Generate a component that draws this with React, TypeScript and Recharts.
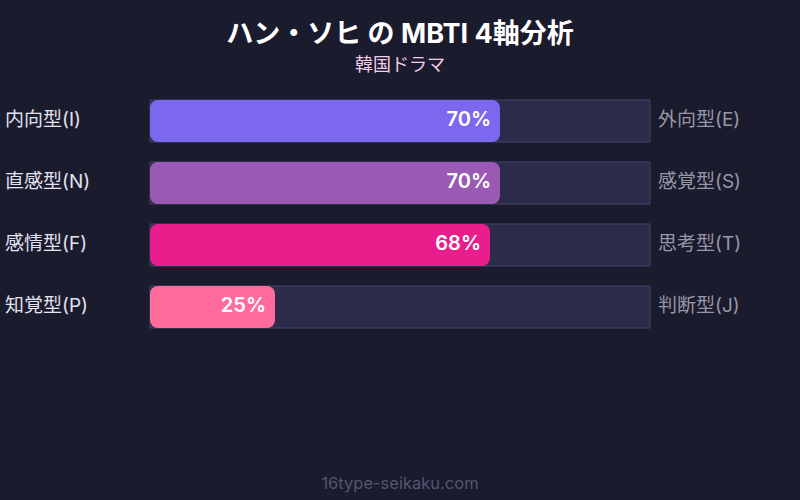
import React from 'react';
import { BarChart, Bar, XAxis, YAxis, Cell, LabelList } from 'recharts';

const leftLabels = ['内向型(I)', '直感型(N)', '感情型(F)', '知覚型(P)'];
const rightLabels = ['外向型(E)', '感覚型(S)', '思考型(T)', '判断型(J)'];
const values = [70, 70, 68, 25];
const barColors = ['#7b68ee', '#9b59b6', '#e91e8c', '#ff6b9d'];

const data = leftLabels.map((l, i) => ({
  left: l,
  right: rightLabels[i],
  value: values[i],
}));

const FONT = "Inter, 'Noto Sans CJK JP', sans-serif";

const LeftTick = (props: any) => {
  const { y, payload } = props;
  return (
    <text x={5} y={y} dy={5} textAnchor="start" fill="#e2e2f0" fontSize={19} fontFamily={FONT}>
      {payload.value}
    </text>
  );
};

const RightTick = (props: any) => {
  const { y, payload } = props;
  return (
    <text x={658} y={y} dy={5} textAnchor="start" fill="#9797a8" fontSize={19} fontFamily={FONT}>
      {payload.value}
    </text>
  );
};

export default function App() {
  return (
    <div style={{ position: 'absolute', left: 0, top: 0, width: 800, height: 500, background: '#1b1b2e', fontFamily: FONT }}>
      <div style={{ position: 'absolute', top: 12, width: 800, textAlign: 'center', color: '#ffffff', fontSize: 27, fontWeight: 700 }}>
        ハン・ソヒ の MBTI 4軸分析
      </div>
      <div style={{ position: 'absolute', top: 50, width: 800, textAlign: 'center', color: '#f3cdea', fontSize: 18 }}>
        韓国ドラマ
      </div>
      <BarChart
        width={800}
        height={500}
        data={data}
        layout="vertical"
        margin={{ top: 90, right: 0, bottom: 162, left: 0 }}
        barCategoryGap={10}
      >
        <XAxis type="number" domain={[0, 100]} hide />
        <YAxis yAxisId="l" type="category" dataKey="left" width={150} axisLine={false} tickLine={false} tick={<LeftTick />} />
        <YAxis yAxisId="r" type="category" dataKey="right" orientation="right" width={150} axisLine={false} tickLine={false} tick={<RightTick />} />
        <Bar
          yAxisId="l"
          dataKey="value"
          barSize={42}
          radius={8}
          isAnimationActive={false}
          background={{ fill: '#2d2b4a', stroke: '#45456a', strokeWidth: 1 }}
        >
          {data.map((d, i) => (
            <Cell key={d.left} fill={barColors[i]} />
          ))}
          <LabelList
            dataKey="value"
            position="insideRight"
            offset={9}
            formatter={(v: any) => `${v}%`}
            fill="#ffffff"
            fontSize={20}
            fontWeight={600}
            fontFamily={FONT}
            dy={-2}
          />
        </Bar>
      </BarChart>
      <div style={{ position: 'absolute', top: 473, width: 800, textAlign: 'center', color: '#55556e', fontSize: 16.5 }}>
        16type-seikaku.com
      </div>
    </div>
  );
}
